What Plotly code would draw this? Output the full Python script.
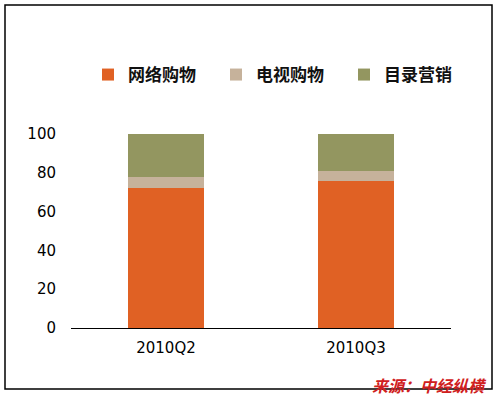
import plotly.graph_objects as go

categories = ["2010Q2", "2010Q3"]
series_names = ["网络购物", "电视购物", "目录营销"]
online = [72, 76]
tv = [6, 5]
catalog = [22, 19]
colors = ["#E06124", "#C6B29B", "#939660"]
y_ticks = [0, 20, 40, 60, 80, 100]
source_text = "来源：中经纵横"

W, H = 495, 397
L, R, T, B = 71, 44, 134, 69
pw, ph = W - L - R, H - T - B

def px_x(x):
    return (x - L) / pw

def px_y(y):
    return (H - B - y) / ph

fig = go.Figure()
for name, vals, col in zip(series_names, [online, tv, catalog], colors):
    fig.add_trace(go.Bar(x=categories, y=vals, name=name, marker=dict(color=col, line=dict(width=0)), width=0.4))

fig.update_layout(
    width=W, height=H,
    barmode="stack",
    margin=dict(l=L, r=R, t=T, b=B),
    paper_bgcolor="white", plot_bgcolor="white",
    font=dict(family="DejaVu Sans", color="black"),
    showlegend=True,
    legend=dict(orientation="h", x=px_x(88), y=px_y(75), xanchor="left", yanchor="middle",
                font=dict(family="Noto Sans CJK SC", size=17, color="#111", weight=600),
                entrywidth=83, entrywidthmode="pixels", itemclick=False,
                bgcolor="rgba(0,0,0,0)", traceorder="normal"),
    xaxis=dict(showline=True, linecolor="black", linewidth=1, ticks="", showgrid=False,
               tickfont=dict(family="DejaVu Sans", size=15, color="black"), ticklabelstandoff=6),
    yaxis=dict(range=[0, 100], tickvals=y_ticks, showgrid=False, zeroline=False, showline=False,
               ticks="", tickfont=dict(family="DejaVu Sans", size=15, color="black"), ticklabelstandoff=14),
    shapes=[dict(type="rect", xref="paper", yref="paper", x0=px_x(5), x1=px_x(492), y0=px_y(389), y1=px_y(5),
                 line=dict(color="black", width=1.5), fillcolor="rgba(0,0,0,0)", layer="below")],
    annotations=[dict(text="<b><i>" + source_text + "</i></b>", xref="paper", yref="paper",
                      x=px_x(489), y=px_y(385), xanchor="right", yanchor="middle", showarrow=False,
                      font=dict(family="Noto Sans CJK SC", size=16, color="#D02020"))],
)

fig.write_html("out.html", config={"displayModeBar": False},
               post_script="document.body.style.margin='0';document.body.style.overflow='hidden';")
